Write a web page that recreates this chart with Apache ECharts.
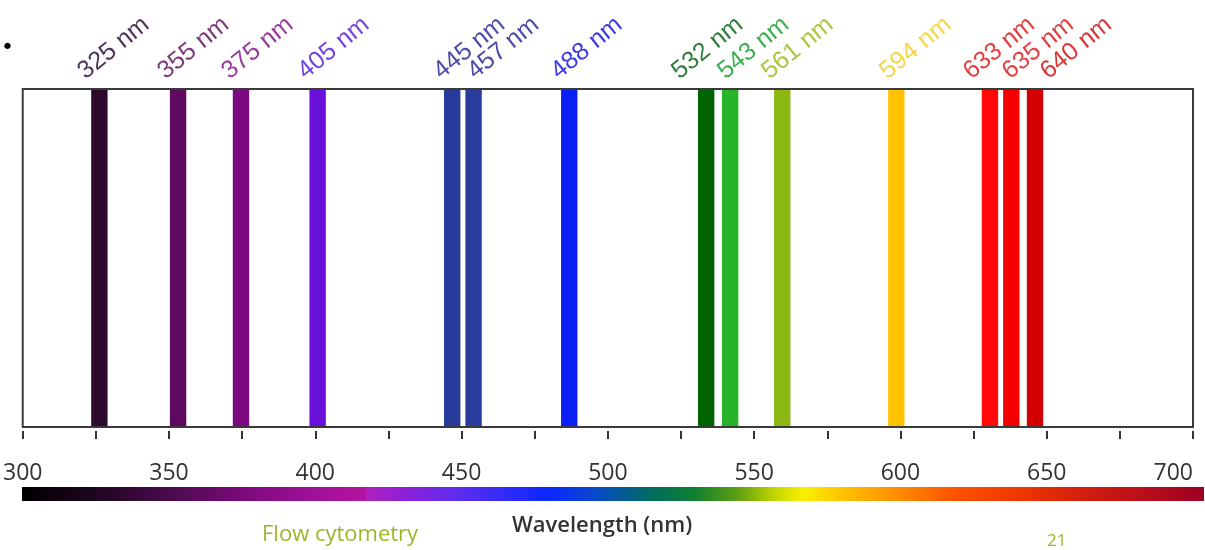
<!DOCTYPE html>
<html>
<head>
<meta charset="utf-8">
<script src="https://cdn.jsdelivr.net/npm/echarts@6/dist/echarts.min.js"></script>
<style>
html,body{margin:0;padding:0;background:#fff;}
#chart{width:1205px;height:550px;}
</style>
</head>
<body>
<div id="chart"></div>
<script>
// Laser lines (nominal wavelength, nm)
const laserNm = [325, 355, 375, 405, 445, 457, 488, 532, 543, 561, 594, 633, 635, 640];
// Bar centres as drawn in the picture (nm)
const barCenterNm = [326.2, 353.1, 374.6, 400.8, 446.8, 454.1, 486.8, 533.6, 541.8, 559.6, 598.6, 630.6, 637.9, 646.0];
// Where each rotated label starts (nm)
const labelNm = [320.3, 347.6, 369.5, 395.5, 441.9, 453.5, 482.0, 523.3, 539.0, 554.1, 594.4, 623.0, 636.3, 649.3];
const barColors = ['#2b0a2e', '#5e0a5e', '#7d0a80', '#6a10dc', '#283a9a', '#2a3c9c', '#0a1ef5', '#006400', '#28b428', '#8cb814', '#ffc200', '#ff0a0a', '#f50000', '#d20000'];
const labelColors = ['#4d3558', '#7b3a78', '#9a3a9c', '#7244e0', '#4c4ca8', '#4c4ca8', '#3a3ae8', '#2e7d3a', '#3cb050', '#a8c840', '#f3d64a', '#e04040', '#e04040', '#d83838'];
// Axis ticks / labels
const axisMin = 300, axisMax = 700, axisStep = 25, labelStep = 50;
// Spectrum colour bar stops [nm, colour]
const spectrumStops = [
  [300, '#000000'], [325, '#1e0620'], [350, '#4a0a4c'], [375, '#7a0a7a'], [400, '#a0109a'],
  [417, '#b4129e'], [418, '#b020c0'], [430, '#9020d8'], [450, '#5a2ef0'], [480, '#0a28ff'],
  [495, '#0848d0'], [515, '#006c60'], [530, '#108030'], [545, '#60a010'], [558, '#c8d800'],
  [567, '#f8f000'], [580, '#ffc400'], [600, '#ff8a00'], [620, '#ff5000'], [640, '#f03800'],
  [665, '#d01c10'], [704, '#9c0024']
];
const xTitle = 'Wavelength (nm)';

const chart = echarts.init(document.getElementById('chart'), null, {renderer: 'canvas'});
const specMin = spectrumStops[0][0], specMax = spectrumStops[spectrumStops.length - 1][0];

const option = {
  backgroundColor: '#ffffff',
  animation: false,
  title: [
    {text: xTitle, left: 512, top: 515, padding: 0,
     textStyle: {fontFamily: 'Open Sans', fontSize: 22, fontWeight: 600, color: '#333333'}},
    {text: 'Flow cytometry', left: 262, top: 524, padding: 0,
     textStyle: {fontFamily: 'Open Sans', fontSize: 22, fontWeight: 'normal', color: '#9db627'}},
    {text: '21', left: 1047, top: 533, padding: 0,
     textStyle: {fontFamily: 'Open Sans', fontSize: 17, fontWeight: 'normal', color: '#9db627'}},
    {text: '\u2022', left: 1, top: 37, padding: 0,
     textStyle: {fontFamily: 'DejaVu Sans', fontSize: 22, fontWeight: 'normal', color: '#000000'}}
  ],
  grid: [
    {left: 22.7, right: 12, top: 89, bottom: 123, show: true, borderColor: '#3a3a3a', borderWidth: 2, backgroundColor: 'transparent'},
    {left: 22, right: 1, top: 487, height: 14, show: false}
  ],
  xAxis: [
    {type: 'value', gridIndex: 0, min: axisMin, max: axisMax, interval: axisStep,
     offset: 4,
     axisLine: {show: false, onZero: false},
     axisTick: {show: true, length: 8, lineStyle: {color: '#333', width: 2}},
     splitLine: {show: false},
     axisLabel: {show: true, margin: 31, fontFamily: 'Open Sans', fontSize: 23, color: '#333333',
                 alignMaxLabel: 'right',
                 formatter: v => (v % labelStep === 0 ? String(v) : '')}},
    {type: 'value', gridIndex: 1, min: specMin, max: specMax, show: false}
  ],
  yAxis: [
    {type: 'value', gridIndex: 0, min: 0, max: 1, show: false},
    {type: 'value', gridIndex: 1, min: 0, max: 1, show: false}
  ],
  series: [
    {
      type: 'custom', xAxisIndex: 0, yAxisIndex: 0, z: 3,
      data: barCenterNm.map((c, i) => [c, laserNm[i]]),
      renderItem: function (params, api) {
        const c = api.value(0);
        const p0 = api.coord([c - 2.8, 1]);
        const p1 = api.coord([c + 2.8, 0]);
        return {type: 'rect', shape: {x: p0[0], y: p0[1] + 1, width: p1[0] - p0[0], height: p1[1] - p0[1] - 2},
                style: {fill: barColors[params.dataIndex]}};
      }
    },
    {
      type: 'custom', xAxisIndex: 0, yAxisIndex: 0, z: 4, clip: false,
      data: labelNm.map((x, i) => [x, laserNm[i]]),
      renderItem: function (params, api) {
        const p = api.coord([api.value(0), 1]);
        return {type: 'text', x: p[0] + 7, y: p[1] - 5, rotation: 39 * Math.PI / 180,
                style: {text: api.value(1) + ' nm', fill: labelColors[params.dataIndex],
                        font: '25px "Liberation Sans"', align: 'left', verticalAlign: 'bottom'}};
      }
    },
    {
      type: 'custom', xAxisIndex: 1, yAxisIndex: 1, z: 2,
      data: [[specMin, specMax]],
      renderItem: function (params, api) {
        const p0 = api.coord([api.value(0), 1]);
        const p1 = api.coord([api.value(1), 0]);
        const span = specMax - specMin;
        return {type: 'rect', shape: {x: p0[0], y: p0[1], width: p1[0] - p0[0], height: p1[1] - p0[1]},
                style: {fill: new echarts.graphic.LinearGradient(0, 0, 1, 0,
                  spectrumStops.map(s => ({offset: (s[0] - specMin) / span, color: s[1]})))}};
      }
    }
  ]
};
chart.setOption(option);
</script>
</body>
</html>
